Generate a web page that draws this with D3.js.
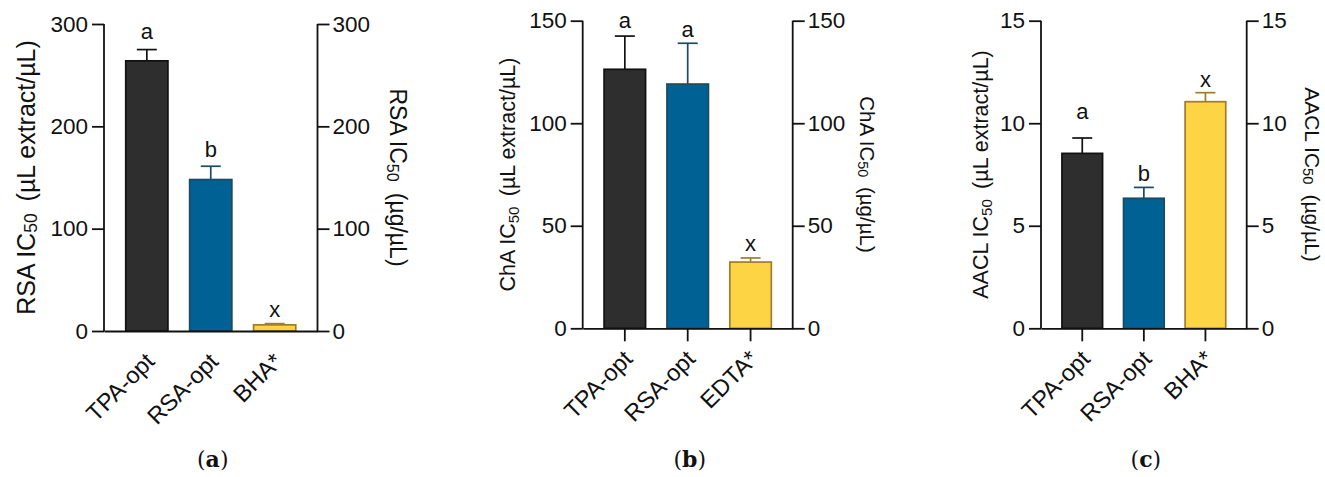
<!DOCTYPE html>
<html>
<head>
<meta charset="utf-8">
<script src="https://cdn.jsdelivr.net/npm/d3@7"></script>
<style>
  body { margin: 0; background: #fff; }
  svg { display: block; }
  text { font-family: "Liberation Sans", Arial, sans-serif; fill: #111; }
</style>
</head>
<body>
<svg width="1325" height="477"></svg>
<script>
// panel (a) - radical scavenging
const categoriesA = ["TPA-opt", "RSA-opt", "BHA*"];
const valuesA = [264, 148, 6];
const errorsA = [11, 13, 1.2];
const lettersA = ["a", "b", "x"];
const ticksA = [0, 100, 200, 300];

// panel (b) - chelating activity
const categoriesB = ["TPA-opt", "RSA-opt", "EDTA*"];
const valuesB = [126.3, 119.1, 32.3];
const errorsB = [16.2, 19.9, 2.0];
const lettersB = ["a", "a", "x"];
const ticksB = [0, 50, 100, 150];

// panel (c) - AACL
const categoriesC = ["TPA-opt", "RSA-opt", "BHA*"];
const valuesC = [8.53, 6.34, 11.05];
const errorsC = [0.75, 0.53, 0.44];
const lettersC = ["a", "b", "x"];
const ticksC = [0, 5, 10, 15];

const fills   = ["#2e2e2e", "#006195", "#fdd443"];
const strokes = ["#111111", "#1d4a5f", "#a07c2c"];

const svg = d3.select("svg");

function drawPanel(p) {
    const g = svg.append("g");
    const x = d3.scaleBand()
        .domain(p.cats)
        .range([p.x0, p.x1])
        .paddingInner(0.34)
        .paddingOuter(0.34);
    const y = d3.scaleLinear()
        .domain([0, p.ticks[p.ticks.length - 1]])
        .range([p.y0, p.y1]);

    const data = p.cats.map((c, i) => ({c, v: p.vals[i], e: p.errs[i], l: p.letters[i], i}));

    // error bars (drawn first so bar covers the stem)
    const eb = g.selectAll(".err").data(data).enter().append("g");
    eb.append("line")
        .attr("x1", d => x(d.c) + x.bandwidth() / 2)
        .attr("x2", d => x(d.c) + x.bandwidth() / 2)
        .attr("y1", d => y(d.v))
        .attr("y2", d => y(d.v + d.e))
        .attr("stroke", d => strokes[d.i]).attr("stroke-width", 1.7);
    eb.append("line")
        .attr("x1", d => x(d.c) + x.bandwidth() / 2 - 10)
        .attr("x2", d => x(d.c) + x.bandwidth() / 2 + 10)
        .attr("y1", d => y(d.v + d.e))
        .attr("y2", d => y(d.v + d.e))
        .attr("stroke", d => strokes[d.i]).attr("stroke-width", 1.7);

    g.selectAll(".bar").data(data).enter().append("rect")
        .attr("x", d => x(d.c))
        .attr("width", x.bandwidth())
        .attr("y", d => y(d.v))
        .attr("height", d => y(0) - y(d.v))
        .attr("fill", d => fills[d.i])
        .attr("stroke", d => strokes[d.i])
        .attr("stroke-width", 1.7);

    // significance letters
    g.selectAll(".let").data(data).enter().append("text")
        .attr("x", d => x(d.c) + x.bandwidth() / 2)
        .attr("y", d => y(d.v + d.e) - (p.letterGap[d.i]))
        .attr("text-anchor", "middle")
        .style("font-size", "22px")
        .text(d => d.l);

    // left + right axes
    const left = g.append("g").attr("transform", `translate(${p.x0},0)`)
        .call(d3.axisLeft(y).tickValues(p.ticks).tickSize(12).tickPadding(4));
    const right = g.append("g").attr("transform", `translate(${p.x1},0)`)
        .call(d3.axisRight(y).tickValues(p.ticks).tickSize(12).tickPadding(3));
    [left, right].forEach(a => {
        a.select(".domain").attr("stroke", "#111").attr("stroke-width", 1.8)
            .attr("d", `M0,${p.y0 + 0.5}V${p.y1}`);
        a.selectAll(".tick line").attr("stroke", "#111").attr("stroke-width", 1.8);
        a.selectAll(".tick text").style("font-size", "22.5px").attr("fill", "#111");
    });

    // bottom axis
    const bottom = g.append("g").attr("transform", `translate(0,${p.y0})`)
        .call(d3.axisBottom(x).tickSize(p.xTicks ? 13 : 0).tickSizeOuter(0).tickFormat(""));
    bottom.select(".domain").attr("stroke", "#111").attr("stroke-width", 1.8);
    bottom.selectAll(".tick line").attr("stroke", "#111").attr("stroke-width", 1.8);

    g.selectAll(".cat").data(data).enter().append("text")
        .attr("text-anchor", "end")
        .attr("transform", d => `translate(${x(d.c) + x.bandwidth() / 2 + 9},${p.y0 + 32}) rotate(-45)`)
        .style("font-size", "23.5px")
        .text(d => d.c);

    // axis titles
    const lt = g.append("text")
        .attr("transform", `translate(${p.x0 - p.leftOff},${(p.y0 + p.y1) / 2}) rotate(-90)`)
        .attr("text-anchor", "middle")
        .attr("dominant-baseline", "central")
        .style("font-size", p.leftSize + "px");
    lt.append("tspan").text(p.name + " IC");
    lt.append("tspan").attr("dy", 5).style("font-size", (p.leftSize * 0.7) + "px").text("50");
    lt.append("tspan").attr("dy", -5).text("\u2009 (\u00b5L extract/\u00b5L)");

    const rt = g.append("text")
        .attr("transform", `translate(${p.x1 + p.rightOff},${(p.y0 + p.y1) / 2}) rotate(90)`)
        .attr("text-anchor", "middle")
        .attr("dominant-baseline", "central")
        .style("font-size", p.rightSize + "px");
    rt.append("tspan").text(p.name + " IC");
    rt.append("tspan").attr("dy", 5).style("font-size", (p.rightSize * 0.7) + "px").text("50");
    rt.append("tspan").attr("dy", -5).text("\u2009 (\u00b5g/\u00b5L)");

    // panel label
    const lab = svg.append("text")
        .attr("x", (p.x0 + p.x1) / 2 + 2)
        .attr("y", 467)
        .attr("text-anchor", "middle")
        .style("font-family", "'DejaVu Serif', 'Liberation Serif', serif")
        .style("font-size", "22px");
    lab.append("tspan").text("(");
    lab.append("tspan").style("font-weight", "bold").text(p.label);
    lab.append("tspan").text(")");
}

drawPanel({cats: categoriesA, vals: valuesA, errs: errorsA, letters: lettersA, ticks: ticksA,
    x0: 104, x1: 317.5, y0: 331, y1: 24, xTicks: false, name: "RSA", label: "a",
    leftOff: 78, leftSize: 25, rightOff: 80, rightSize: 23, letterGap: [11, 9, 7]});
drawPanel({cats: categoriesB, vals: valuesB, errs: errorsB, letters: lettersB, ticks: ticksB,
    x0: 582.7, x1: 792.7, y0: 328.3, y1: 20.7, xTicks: true, name: "ChA", label: "b",
    leftOff: 75, leftSize: 21.5, rightOff: 75, rightSize: 20.5, letterGap: [8, 6, 7]});
drawPanel({cats: categoriesC, vals: valuesC, errs: errorsC, letters: lettersC, ticks: ticksC,
    x0: 1041, x1: 1246.7, y0: 328.3, y1: 20.7, xTicks: true, name: "AACL", label: "c",
    leftOff: 60, leftSize: 21.5, rightOff: 66, rightSize: 21, letterGap: [19, 6, 6]});
</script>
</body>
</html>
